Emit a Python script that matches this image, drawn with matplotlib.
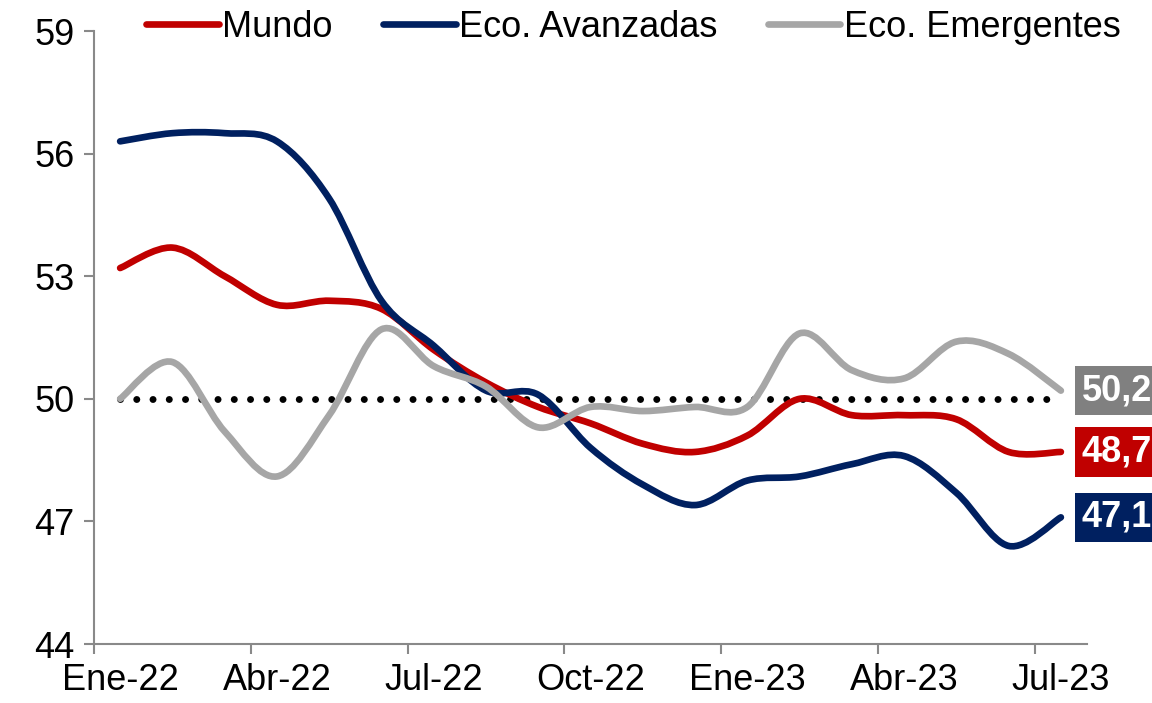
import numpy as np
import matplotlib
matplotlib.use("Agg")
import matplotlib.pyplot as plt
from matplotlib.path import Path
from matplotlib.patches import PathPatch
from matplotlib.lines import Line2D

plt.rcParams['font.family'] = ['Liberation Sans', 'DejaVu Sans']

months = ['Ene-22', 'Feb-22', 'Mar-22', 'Abr-22', 'May-22', 'Jun-22', 'Jul-22', 'Ago-22', 'Sep-22',
          'Oct-22', 'Nov-22', 'Dic-22', 'Ene-23', 'Feb-23', 'Mar-23', 'Abr-23', 'May-23', 'Jun-23', 'Jul-23']

mundo = [53.2, 53.7, 53.0, 52.3, 52.4, 52.2, 51.2, 50.4, 49.8, 49.4, 48.9, 48.7, 49.1, 50.0, 49.6, 49.6, 49.5, 48.7, 48.7]
avanzadas = [56.3, 56.5, 56.5, 56.3, 54.9, 52.4, 51.3, 50.2, 50.1, 48.8, 47.9, 47.4, 48.0, 48.1, 48.4, 48.6, 47.7, 46.4, 47.1]
emergentes = [50.0, 50.9, 49.2, 48.1, 49.6, 51.7, 50.8, 50.3, 49.3, 49.8, 49.7, 49.8, 49.8, 51.6, 50.7, 50.5, 51.4, 51.1, 50.2]

series = [('Mundo', mundo, '#C00000', '48,7'),
          ('Eco. Avanzadas', avanzadas, '#002060', '47,1'),
          ('Eco. Emergentes', emergentes, '#A6A6A6', '50,2')]
box_colors = {'Mundo': '#C00000', 'Eco. Avanzadas': '#002060', 'Eco. Emergentes': '#808080'}

FS = 26


def smooth_path(xs, ys):
    # excel-like smoothed line: catmull-rom segments as cubic beziers
    pts = np.column_stack([xs, ys])
    ext = np.vstack([pts[0], pts, pts[-1]])
    verts = [pts[0]]
    codes = [Path.MOVETO]
    for i in range(len(pts) - 1):
        p0, p1, p2, p3 = ext[i], ext[i + 1], ext[i + 2], ext[i + 3]
        verts += [p1 + (p2 - p0) / 6, p2 - (p3 - p1) / 6, p2]
        codes += [Path.CURVE4] * 3
    return Path(verts, codes)


fig = plt.figure(figsize=(11.52, 7.03), dpi=100)
ax = fig.add_axes([0.0816, 0.0839, 0.862, 0.872])

x = np.arange(len(months))
ax.plot(x, [50] * len(x), color='black', lw=5, linestyle=(0, (0.01, 2.33)),
        dash_capstyle='round', zorder=1)

for name, vals, color, lab in series:
    patch = PathPatch(smooth_path(x, vals), facecolor='none', edgecolor=color, lw=4.8,
                      capstyle='round', joinstyle='round', zorder=2)
    ax.add_patch(patch)
    ax.text(18.4, vals[-1], lab, color='white', fontsize=FS, fontweight='bold',
            ha='left', va='center', clip_on=False,
            bbox=dict(boxstyle='square,pad=0.2', facecolor=box_colors[name], edgecolor='none'))

ax.set_xlim(-0.5, 18.5)
ax.set_ylim(44, 59)
ax.set_yticks(np.arange(44, 60, 3))

ax.set_xticks(np.arange(-0.5, 18, 3))
ax.set_xticklabels([])
ax.set_xticks(x[::3], minor=True)
ax.set_xticklabels(months[::3], minor=True)
ax.tick_params(axis='x', which='major', length=7, width=1.5, color='#898989', direction='out')
ax.tick_params(axis='x', which='minor', length=0, pad=13.5, labelsize=FS)
ax.tick_params(axis='y', length=7, width=1.5, color='#898989', direction='out', labelsize=FS, pad=7)

for s in ['top', 'right']:
    ax.spines[s].set_visible(False)
for s in ['left', 'bottom']:
    ax.spines[s].set_color('#898989')
    ax.spines[s].set_linewidth(1.5)

handles = [Line2D([], [], color=c, lw=4.8, solid_capstyle='round') for _, _, c, _ in series]
fig.legend(handles, [n for n, _, _, _ in series], loc='center', bbox_to_anchor=(0.55, 0.961),
           ncol=3, frameon=False, fontsize=FS, handlelength=2.0, handletextpad=0.1,
           columnspacing=1.4, borderaxespad=0, borderpad=0)

fig.savefig('out.png', dpi=100)
